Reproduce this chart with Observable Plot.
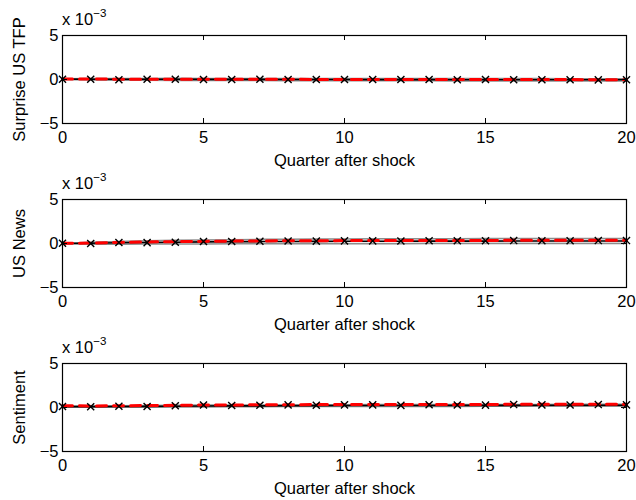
<!DOCTYPE html>
<html>
<head>
<meta charset="utf-8">
<script src="https://cdn.jsdelivr.net/npm/d3@7"></script>
<script src="https://cdn.jsdelivr.net/npm/@observablehq/plot@0.6"></script>
<style>
  body { margin: 0; background: #fff; }
  #chart { position: relative; width: 636px; height: 500px; font-family: "Liberation Sans", Arial, sans-serif; }
  #chart svg { position: absolute; left: 0; }
</style>
</head>
<body>
<div id="chart"></div>
<script>
// Impulse responses, in units of 1e-3 (the axes carry the "x 10^-3" multiplier)
const quarters = [0, 1, 2, 3, 4, 5, 6, 7, 8, 9, 10, 11, 12, 13, 14, 15, 16, 17, 18, 19, 20];
const xTicks = [0, 5, 10, 15, 20];
const yTicks = [-5, 0, 5];
const xLabel = "Quarter after shock";
const multiplierBase = "x 10";
const multiplierExp = "\u22123";

// Surprise US TFP
const tfpMedian = [0.04, 0.03, 0.03, 0.02, 0.02, 0.01, 0.01, 0.01, 0.00, 0.00, 0.00, -0.01, -0.01, -0.01, -0.02, -0.02, -0.02, -0.03, -0.03, -0.03, -0.03];
const tfpLower  = [0.00, -0.06, -0.08, -0.09, -0.10, -0.11, -0.11, -0.12, -0.13, -0.13, -0.14, -0.14, -0.15, -0.15, -0.16, -0.16, -0.16, -0.17, -0.17, -0.17, -0.17];
const tfpUpper  = [0.08, 0.11, 0.12, 0.12, 0.13, 0.12, 0.12, 0.12, 0.12, 0.12, 0.12, 0.11, 0.11, 0.11, 0.10, 0.10, 0.10, 0.10, 0.09, 0.09, 0.09];
const tfpDashed = [0.05, 0.05, 0.04, 0.04, 0.03, 0.03, 0.02, 0.02, 0.02, 0.01, 0.01, 0.01, 0.00, 0.00, 0.00, -0.01, -0.01, -0.01, -0.01, -0.02, -0.02];
const tfpMarked = [0.03, 0.02, -0.02, 0.03, 0.02, 0.00, 0.01, 0.02, 0.01, -0.01, 0.00, 0.00, -0.01, 0.00, -0.02, -0.01, -0.03, -0.02, -0.03, -0.04, -0.03];

// US News
const newsMedian = [0.00, 0.03, 0.08, 0.12, 0.15, 0.18, 0.20, 0.22, 0.23, 0.24, 0.25, 0.26, 0.26, 0.27, 0.27, 0.27, 0.28, 0.28, 0.28, 0.28, 0.28];
const newsLower  = [0.00, -0.08, -0.08, -0.07, -0.06, -0.05, -0.04, -0.03, -0.03, -0.02, -0.02, -0.02, -0.02, -0.01, -0.01, -0.01, -0.01, -0.01, -0.01, -0.01, -0.01];
const newsUpper  = [0.00, 0.14, 0.24, 0.31, 0.36, 0.41, 0.44, 0.47, 0.49, 0.51, 0.52, 0.53, 0.54, 0.55, 0.55, 0.56, 0.56, 0.57, 0.57, 0.57, 0.57];
const newsDashed = [0.02, 0.05, 0.12, 0.17, 0.21, 0.24, 0.27, 0.29, 0.31, 0.32, 0.33, 0.34, 0.34, 0.35, 0.35, 0.35, 0.36, 0.36, 0.36, 0.36, 0.36];
const newsMarked = [0.02, 0.00, 0.12, 0.10, 0.14, 0.22, 0.23, 0.25, 0.28, 0.27, 0.30, 0.30, 0.29, 0.32, 0.31, 0.31, 0.33, 0.32, 0.32, 0.33, 0.33];

// Sentiment
const sentMedian = [0.10, 0.10, 0.12, 0.13, 0.15, 0.17, 0.18, 0.19, 0.20, 0.21, 0.22, 0.22, 0.23, 0.23, 0.24, 0.24, 0.24, 0.25, 0.25, 0.25, 0.25];
const sentLower  = [0.06, 0.02, 0.03, 0.04, 0.06, 0.07, 0.08, 0.09, 0.10, 0.10, 0.11, 0.11, 0.12, 0.12, 0.12, 0.13, 0.13, 0.13, 0.13, 0.13, 0.13];
const sentUpper  = [0.14, 0.18, 0.21, 0.23, 0.25, 0.27, 0.28, 0.29, 0.30, 0.31, 0.32, 0.33, 0.33, 0.34, 0.34, 0.35, 0.35, 0.35, 0.36, 0.36, 0.36];
const sentDashed = [0.20, 0.18, 0.20, 0.22, 0.25, 0.28, 0.29, 0.31, 0.32, 0.33, 0.33, 0.34, 0.34, 0.35, 0.35, 0.35, 0.36, 0.36, 0.36, 0.36, 0.36];
const sentMarked = [0.12, 0.08, 0.15, 0.12, 0.20, 0.28, 0.22, 0.26, 0.30, 0.25, 0.30, 0.30, 0.24, 0.32, 0.28, 0.27, 0.33, 0.30, 0.28, 0.33, 0.30];

const panels = [
  {label: "Surprise US TFP", median: tfpMedian, lower: tfpLower, upper: tfpUpper, dashed: tfpDashed, marked: tfpMarked},
  {label: "US News", median: newsMedian, lower: newsLower, upper: newsUpper, dashed: newsDashed, marked: newsMarked},
  {label: "Sentiment", median: sentMedian, lower: sentLower, upper: sentUpper, dashed: sentDashed, marked: sentMarked}
];

const W = 636, H = 164;
const M = {top: 35, right: 10, bottom: 41, left: 62};
const innerW = W - M.left - M.right;
const innerH = H - M.top - M.bottom;
const tickLen = 5;
const font = "'Liberation Sans', Arial, Helvetica, sans-serif";
const fontSize = 16.5;

const chart = document.getElementById("chart");

panels.forEach((p, i) => {
  const rows = quarters.map((q, j) => ({
    q, median: p.median[j], lower: p.lower[j], upper: p.upper[j], dashed: p.dashed[j], marked: p.marked[j]
  }));

  const svg = Plot.plot({
    width: W,
    height: H,
    marginTop: M.top,
    marginRight: M.right,
    marginBottom: M.bottom,
    marginLeft: M.left,
    style: {fontFamily: font, fontSize: `${fontSize}px`, color: "#000", background: "transparent", overflow: "visible"},
    x: {domain: [0, 20]},
    y: {domain: [-5, 5]},
    marks: [
      Plot.areaY(rows, {x: "q", y1: "lower", y2: "upper", fill: "#ececec"}),
      Plot.lineY(rows, {x: "q", y: "lower", stroke: "#8c8c8c", strokeWidth: 1.5}),
      Plot.lineY(rows, {x: "q", y: "upper", stroke: "#8c8c8c", strokeWidth: 1.5}),
      Plot.lineY(rows, {x: "q", y: "median", stroke: "#000", strokeWidth: 1.6}),
      Plot.lineY(rows, {x: "q", y: "dashed", stroke: "#ff0000", strokeWidth: 3, strokeDasharray: "10,7"}),
      Plot.dot(rows, {x: "q", y: "marked", symbol: "times", r: 3.3, stroke: "#000", strokeWidth: 1.4}),
      // inward ticks on all four sides of the box
      Plot.ruleX(xTicks, {stroke: "#000", insetTop: innerH - tickLen}),
      Plot.ruleX(xTicks, {stroke: "#000", insetBottom: innerH - tickLen}),
      Plot.ruleY(yTicks, {stroke: "#000", insetRight: innerW - tickLen}),
      Plot.ruleY(yTicks, {stroke: "#000", insetLeft: innerW - tickLen}),
      Plot.frame({stroke: "#000", strokeWidth: 1.2}),
      Plot.axisX({ticks: xTicks, tickSize: 0, tickPadding: 8, label: xLabel, labelAnchor: "center", labelOffset: 42, labelArrow: "none"}),
      Plot.axisY({ticks: yTicks, tickSize: 0, tickPadding: 4, label: p.label, labelAnchor: "center", labelOffset: 49, labelArrow: "none"})
    ]
  });

  svg.style.top = `${i * H}px`;

  // "x 10^-3" multiplier above the y axis
  const x0 = svg.scale("x").apply(0);
  const mult = d3.select(svg).append("text")
    .attr("x", x0)
    .attr("y", M.top - 10)
    .attr("text-anchor", "start")
    .attr("font-family", font)
    .attr("font-size", fontSize)
    .attr("fill", "#000");
  mult.append("tspan").text(multiplierBase);
  mult.append("tspan").attr("dy", -8).attr("font-size", fontSize * 0.7).text(multiplierExp);

  chart.appendChild(svg);
});
</script>
</body>
</html>
